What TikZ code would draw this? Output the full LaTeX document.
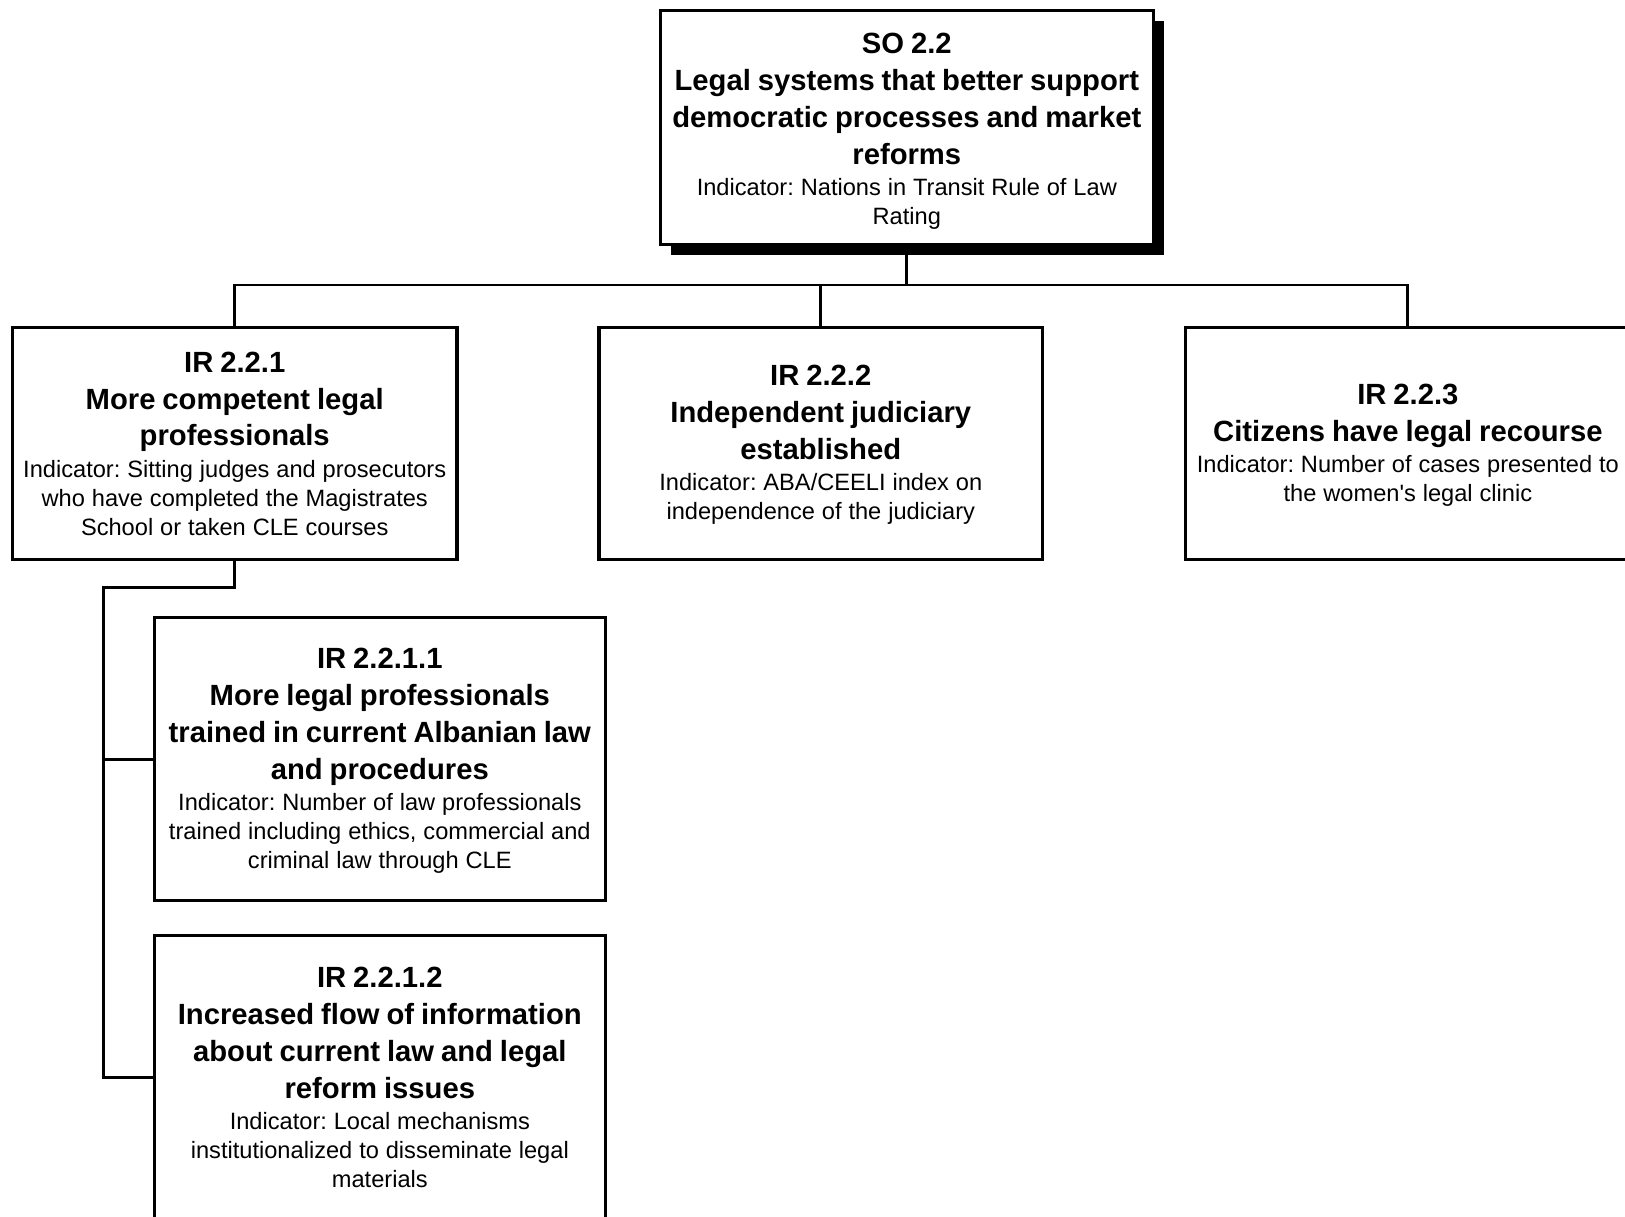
\documentclass[tikz,border=0pt]{standalone}
\usepackage{fontspec}
\setmainfont{Liberation Sans}
\usetikzlibrary{shadows}
\frenchspacing

% heading block (bold) and indicator block (regular) of a results box;
% the optional kern trims the foot of the text so it sits a little lower
\newcommand\headpart[1]{{\bfseries\fontsize{14.1}{17.8}\selectfont #1\par}\vspace{1pt}}
\newcommand\indpart[2][0pt]{{\fontsize{11.4}{14}\selectfont #2\par}\kern#1\nointerlineskip\hbox{}}

\begin{document}
\begin{tikzpicture}[x=0.5pt,y=-0.5pt,
  resbox/.style={draw, line width=1.5pt, fill=white, inner sep=0pt, align=center},
  link/.style={line width=1.4pt},
  shadowed/.style={drop shadow={shadow xshift=5pt, shadow yshift=-5pt, fill=black, opacity=1}}]
\useasboundingbox (0,0) rectangle (1568,1174);

% strategic objective
\node[resbox, shadowed, minimum width=238pt, minimum height=113pt, text width=234pt] (so) at (875,123)
  {\headpart{SO 2.2\\Legal systems that better support\\democratic processes and market\\reforms}%
   \indpart[-4pt]{Indicator: Nations in Transit Rule of Law\\Rating}};

% intermediate results
\node[resbox, minimum width=214.5pt, minimum height=112pt, text width=211pt] (ir1) at (226.5,428)
  {\headpart{IR 2.2.1\\More competent legal\\professionals}%
   \indpart{Indicator: Sitting judges and prosecutors\\who have completed the Magistrates\\School or taken CLE courses}};
\node[resbox, minimum width=214pt, minimum height=112pt, text width=210pt] (ir2) at (792,428)
  {\headpart{IR 2.2.2\\Independent judiciary\\established}%
   \indpart[-1.5pt]{Indicator: ABA/CEELI index on\\independence of the judiciary}};
\node[resbox, minimum width=214.5pt, minimum height=112pt, text width=211pt] (ir3) at (1358.5,428)
  {\headpart{IR 2.2.3\\Citizens have legal recourse}%
   \indpart[-2pt]{Indicator: Number of cases presented to\\the women\textquotesingle s legal clinic}};

% sub-results under IR 2.2.1
\node[resbox, minimum width=217.5pt, minimum height=136.5pt, text width=214pt] (ir11) at (366.5,732.5)
  {\headpart{IR 2.2.1.1\\More legal professionals\\trained in current Albanian law\\and procedures}%
   \indpart[-1.5pt]{Indicator: Number of law professionals\\trained including ethics, commercial and\\criminal law through CLE}};
\node[resbox, minimum width=217.5pt, minimum height=136.5pt, text width=214pt] (ir12) at (366.5,1039.5)
  {\headpart{IR 2.2.1.2\\Increased flow of information\\about current law and legal\\reform issues}%
   \indpart{Indicator: Local mechanisms\\institutionalized to disseminate legal\\materials}};

% connectors
\coordinate (bus) at (875,275);
\coordinate (jog) at (100,567);
\draw[link] (so.south) -- (so.south |- bus);
\draw[link] (ir1.north) |- (ir3.north |- bus) -- (ir3.north);
\draw[link] (ir2.north) -- (ir2.north |- bus);
\draw[link] (ir1.south) |- (jog) |- (ir12.west);
\draw[link] (ir11.west) -- (ir11.west -| jog);
\end{tikzpicture}
\end{document}
